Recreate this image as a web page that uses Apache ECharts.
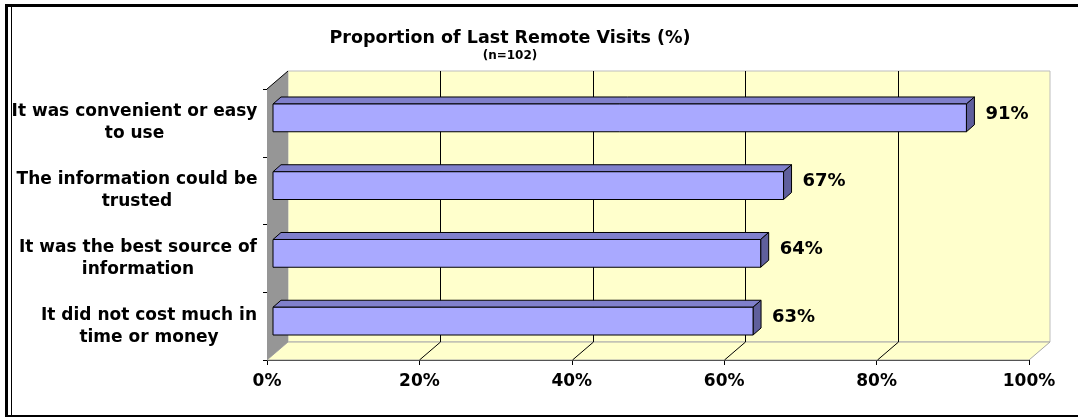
<!DOCTYPE html>
<html>
<head>
<meta charset="utf-8">
<script src="https://cdn.jsdelivr.net/npm/echarts@6/dist/echarts.min.js"></script>
<style>html,body{margin:0;padding:0;background:#fff}#c{width:1078px;height:418px}</style>
</head>
<body>
<div id="c"></div>
<script>
const categories = [
  'It was convenient or easy\nto use',
  'The information could be\ntrusted',
  'It was the best source of\ninformation',
  'It did not cost much in\ntime or money'
];
const values = [91, 67, 64, 63];
const xTicks = [0, 20, 40, 60, 80, 100];
const titleText = 'Proportion of Last Remote Visits (%)';
const subText = '(n=102)';

const FONT = 'DejaVu Sans';
const CAT_FONT_SIZE = 17;
const DX = 21, DY = -18;      // depth of the 3D box
const BDX = 8, BDY = -7;      // depth of each bar
const BOX = 6, BOY = -5;      // offset of bar front face

// measure label blocks so each block's lines can be centred within it
const mctx = document.createElement('canvas').getContext('2d');
mctx.font = 'bold ' + CAT_FONT_SIZE + 'px "' + FONT + '"';
const rich = {};
categories.forEach(function (c, i) {
  const w = Math.max.apply(null, c.split('\n').map(function (l) { return mctx.measureText(l).width; }));
  rich['c' + i] = {width: Math.ceil(w) + 1, align: 'center', fontFamily: FONT, fontWeight: 'bold',
    fontSize: CAT_FONT_SIZE, lineHeight: 22, color: '#000'};
});

const chart = echarts.init(document.getElementById('c'), null, {renderer: 'canvas'});

function wallsRender(params, api) {
  const cs = params.coordSys;
  const x = cs.x, y = cs.y, w = cs.width, h = cs.height;
  const ch = [];
  ch.push({type: 'rect', shape: {x: x + DX, y: y + DY, width: w, height: h},
    style: {fill: '#FFFFCC', stroke: '#BDBDBD', lineWidth: 1}});
  ch.push({type: 'polygon', shape: {points: [[x, y + h], [x + w, y + h], [x + w + DX, y + h + DY], [x + DX, y + h + DY]]},
    style: {fill: '#FFFFCC', stroke: '#A8A8A8', lineWidth: 1}});
  ch.push({type: 'polygon', shape: {points: [[x, y], [x + DX, y + DY], [x + DX, y + h + DY], [x, y + h]]},
    style: {fill: '#969696', stroke: null}});
  ch.push({type: 'line', shape: {x1: x, y1: y, x2: x + DX, y2: y + DY}, style: {stroke: '#000', lineWidth: 1}});
  xTicks.forEach(function (v) {
    const px = Math.round(api.coord([v, 0])[0]) + 0.5;
    if (v > 0 && v < 100) {
      ch.push({type: 'line', shape: {x1: px + DX, y1: y + DY, x2: px + DX, y2: y + h + DY}, style: {stroke: '#000', lineWidth: 1}});
      ch.push({type: 'line', shape: {x1: px, y1: y + h, x2: px + DX, y2: y + h + DY}, style: {stroke: '#000', lineWidth: 1}});
    }
  });
  return {type: 'group', children: ch};
}

function barRender(params, api) {
  const v = api.value(0), i = api.value(1);
  const p0 = api.coord([0, i]);
  const p1 = api.coord([v, i]);
  const band = api.size([0, 1])[1];
  const fh = band * 0.41;
  const fx0 = p0[0] + BOX, fx1 = p1[0] + BOX;
  const cy = p0[1] + BOY;
  const fy0 = cy - fh / 2, fy1 = cy + fh / 2;
  const st = {stroke: '#000', lineWidth: 1};
  return {type: 'group', children: [
    {type: 'polygon', shape: {points: [[fx0, fy0], [fx0 + BDX, fy0 + BDY], [fx1 + BDX, fy0 + BDY], [fx1, fy0]]},
      style: Object.assign({fill: '#8080CC'}, st)},
    {type: 'polygon', shape: {points: [[fx1, fy0], [fx1 + BDX, fy0 + BDY], [fx1 + BDX, fy1 + BDY], [fx1, fy1]]},
      style: Object.assign({fill: '#5F5F9C'}, st)},
    {type: 'rect', shape: {x: fx0, y: fy0, width: fx1 - fx0, height: fh},
      style: Object.assign({fill: '#A9A9FF'}, st)},
    {type: 'text', x: fx1 + 19, y: cy - 4,
      style: {text: v + '%', fill: '#000', font: 'bold 18px "' + FONT + '"', textAlign: 'left', textVerticalAlign: 'middle'}}
  ]};
}

chart.setOption({
  animation: false,
  backgroundColor: '#fff',
  title: {
    text: titleText,
    subtext: subText,
    left: 505,
    top: 24,
    textAlign: 'center',
    itemGap: 3,
    textStyle: {fontFamily: FONT, fontWeight: 'bold', fontSize: 17.5, color: '#000'},
    subtextStyle: {fontFamily: FONT, fontWeight: 'bold', fontSize: 12, color: '#000'}
  },
  grid: {left: 267, right: 49, top: 89, bottom: 58, containLabel: false},
  xAxis: {
    type: 'value', min: 0, max: 100, interval: 20,
    axisLine: {show: true, lineStyle: {color: '#000', width: 1}},
    axisTick: {show: true, length: 5, lineStyle: {color: '#000'}},
    axisLabel: {formatter: '{value}%', fontFamily: FONT, fontWeight: 'bold', fontSize: 17, color: '#000', margin: 13},
    splitLine: {show: false}
  },
  yAxis: {
    type: 'category', data: categories, inverse: true,
    axisLine: {show: true, lineStyle: {color: '#000', width: 1}},
    axisTick: {show: true, length: 4, lineStyle: {color: '#000'}},
    axisLabel: {
      margin: 9, align: 'right',
      formatter: function (value, idx) {
        return value.split('\n').map(function (l) { return '{c' + idx + '|' + l + '}'; }).join('\n');
      },
      rich: rich
    },
    splitLine: {show: false}
  },
  series: [
    {type: 'custom', z: 1, clip: false, silent: true, renderItem: wallsRender, data: [[0, 0]], encode: {x: 0, y: 1}},
    {type: 'custom', z: 3, clip: false, renderItem: barRender,
      data: values.map(function (v, i) { return [v, i]; }), encode: {x: 0, y: 1}}
  ],
  graphic: [
    {type: 'rect', shape: {x: 5, y: 4, width: 1073, height: 3}, style: {fill: '#000'}, z: 100},
    {type: 'rect', shape: {x: 5, y: 415, width: 1073, height: 2}, style: {fill: '#000'}, z: 100},
    {type: 'rect', shape: {x: 5, y: 4, width: 3, height: 413}, style: {fill: '#000'}, z: 100},
    {type: 'rect', shape: {x: 11, y: 7, width: 1, height: 408}, style: {fill: '#000'}, z: 100}
  ]
});
</script>
</body>
</html>
